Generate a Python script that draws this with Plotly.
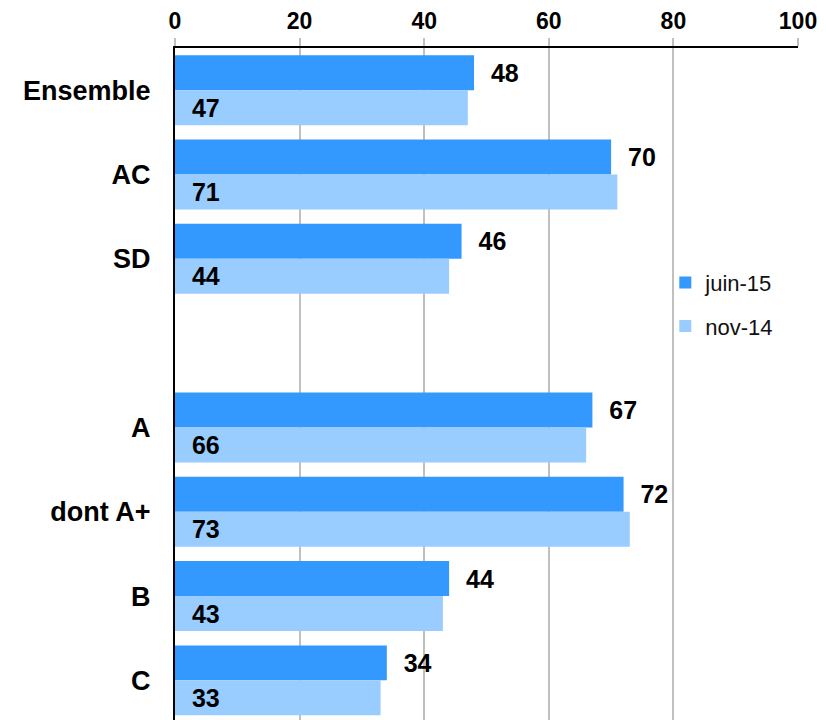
import plotly.graph_objects as go

# Données
categories = ["Ensemble", "AC", "SD", "", "A", "dont A+", "B", "C"]
juin_15 = [48, 70, 46, None, 67, 72, 44, 34]
nov_14 = [47, 71, 44, None, 66, 73, 43, 33]
x_ticks = [0, 20, 40, 60, 80, 100]

position = list(range(len(categories)))

police = "Liberation Sans, Arial, sans-serif"

fig = go.Figure()

fig.add_trace(go.Bar(
    y=position, x=juin_15, orientation="h", name="juin-15",
    marker=dict(color="#3399FF", line=dict(width=0)),
    text=["  " + str(v) if v is not None else "" for v in juin_15],
    textposition="outside", cliponaxis=False,
    textfont=dict(family=police, size=25, color="black", weight="bold"),
    legendgroup="a"
))

fig.add_trace(go.Bar(
    y=position, x=nov_14, orientation="h", name="nov-14",
    marker=dict(color="#99CCFF", line=dict(width=0)),
    text=["  " + str(v) if v is not None else "" for v in nov_14],
    textposition="inside", insidetextanchor="start",
    textfont=dict(family=police, size=25, color="black", weight="bold"),
    legendgroup="b"
))

# la page ajoute une marge de 8 px autour du graphique
fig.update_layout(
    width=818, height=712,
    paper_bgcolor="white", plot_bgcolor="white",
    barmode="group", bargap=0.17, bargroupgap=0,
    margin=dict(l=167, r=28, t=40, b=0),
    font=dict(family=police, size=20, color="black"),
    uniformtext=dict(mode=False),
    legend=dict(x=0.787, y=0.682, xanchor="left", yanchor="top",
                font=dict(family=police, size=22, color="#111"),
                bgcolor="rgba(0,0,0,0)", tracegroupgap=12, traceorder="grouped",
                itemwidth=30),
)

fig.update_xaxes(
    side="top", range=[0, 100], tickvals=x_ticks, automargin=False,
    showgrid=True, gridcolor="#C0C0C0", gridwidth=2,
    ticks="outside", ticklen=8, tickcolor="#C0C0C0", tickwidth=2,
    showline=True, linecolor="black", linewidth=2,
    zeroline=False,
    tickfont=dict(family=police, size=23, color="black", weight="bold"),
)

fig.update_yaxes(
    tickvals=position, ticktext=categories, automargin=False,
    range=[7.47, -0.5],
    showgrid=False, zeroline=False,
    showline=True, linecolor="black", linewidth=2,
    ticks="", ticklabelstandoff=17,
    tickfont=dict(family=police, size=27, color="black", weight="bold"),
)

fig.write_html("out.html")
